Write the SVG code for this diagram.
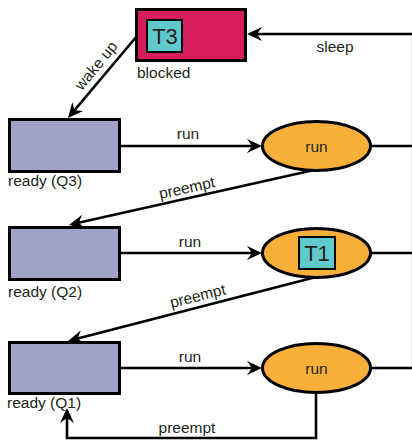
<svg xmlns="http://www.w3.org/2000/svg" width="412" height="441" viewBox="0 0 412 441">
  <style>
    .lbl { font-family: "Liberation Sans", Arial, sans-serif; font-size: 15.5px; fill: #231f20; }
    .big { font-family: "Liberation Sans", Arial, sans-serif; font-size: 22px; fill: #231f20; text-anchor: middle; }
    .conn { fill: none; stroke: #000; stroke-width: 2.6; }
    .ready { fill: #a0a2c8; stroke: #000; stroke-width: 3; }
    .run { fill: #f9b03a; stroke: #000; stroke-width: 3; }
    .tag { fill: #5fc9cc; stroke: #000; stroke-width: 2; }
  </style>
  <defs>
    <marker id="ah" viewBox="0 0 16 16" markerWidth="16" markerHeight="16" refX="11" refY="8" orient="auto" markerUnits="userSpaceOnUse">
      <path d="M15,8 L0,1 L5,8 L0,15 z" fill="#000"/>
    </marker>
  </defs>
  <rect x="0" y="0" width="412" height="441" fill="#fff"/>

  <g id="connectors">
    <path class="conn" d="M414,368 H371 M414,253 H371 M414,146 H371"/>
    <path d="M413.1,368 V34" fill="none" stroke="#000" stroke-width="2.4"/>
    <path class="conn" d="M414,34 H251" marker-end="url(#ah)"/>
    <path class="conn" d="M137,36 L70.6,114.9" marker-end="url(#ah)"/>
    <path class="conn" d="M120,146 H258" marker-end="url(#ah)"/>
    <path class="conn" d="M120,253 H258" marker-end="url(#ah)"/>
    <path class="conn" d="M120,368 H258" marker-end="url(#ah)"/>
    <path class="conn" d="M314,170 L72.9,224.1" marker-end="url(#ah)"/>
    <path class="conn" d="M316,277 L71.9,340" marker-end="url(#ah)"/>
    <path class="conn" d="M316,392 V438 H67 V412" marker-end="url(#ah)"/>
    <text class="lbl" x="335" y="52" text-anchor="middle">sleep</text>
    <text class="lbl" x="100" y="69" text-anchor="middle" transform="rotate(-50.6 100 69)">wake up</text>
    <text class="lbl" x="188" y="139" text-anchor="middle">run</text>
    <text class="lbl" x="190" y="247" text-anchor="middle">run</text>
    <text class="lbl" x="190" y="362" text-anchor="middle">run</text>
    <text class="lbl" x="188" y="193" text-anchor="middle" transform="rotate(-12.4 188 193)">preempt</text>
    <text class="lbl" x="199" y="301" text-anchor="middle" transform="rotate(-14 199 301)">preempt</text>
    <text class="lbl" x="187" y="433" text-anchor="middle">preempt</text>
  </g>

  <g id="blocked">
    <rect x="136.5" y="9.5" width="109" height="51" fill="#d51c5c" stroke="#000" stroke-width="3"/>
    <rect x="147" y="20" width="35" height="32" class="tag"/>
    <text class="big" x="165" y="44">T3</text>
    <text class="lbl" x="137" y="78">blocked</text>
  </g>

  <g id="ready-q3">
    <rect class="ready" x="9.5" y="119.5" width="110" height="52"/>
    <text class="lbl" x="8" y="186">ready (Q3)</text>
  </g>
  <g id="ready-q2">
    <rect class="ready" x="9.5" y="227.5" width="110" height="52"/>
    <text class="lbl" x="8" y="297">ready (Q2)</text>
  </g>
  <g id="ready-q1">
    <rect class="ready" x="9.5" y="342.5" width="110" height="51"/>
    <text class="lbl" x="7" y="408">ready (Q1)</text>
  </g>

  <g id="run-q3">
    <ellipse class="run" cx="316.5" cy="146" rx="54" ry="24.5"/>
    <text class="lbl" x="316.5" y="152" text-anchor="middle">run</text>
  </g>
  <g id="run-q2">
    <ellipse class="run" cx="316.5" cy="253" rx="54" ry="24.5"/>
    <rect x="299" y="237" width="36" height="32" class="tag"/>
    <text class="big" x="317" y="261">T1</text>
  </g>
  <g id="run-q1">
    <ellipse class="run" cx="316.5" cy="368" rx="54" ry="24.5"/>
    <text class="lbl" x="316.5" y="374" text-anchor="middle">run</text>
  </g>
</svg>
